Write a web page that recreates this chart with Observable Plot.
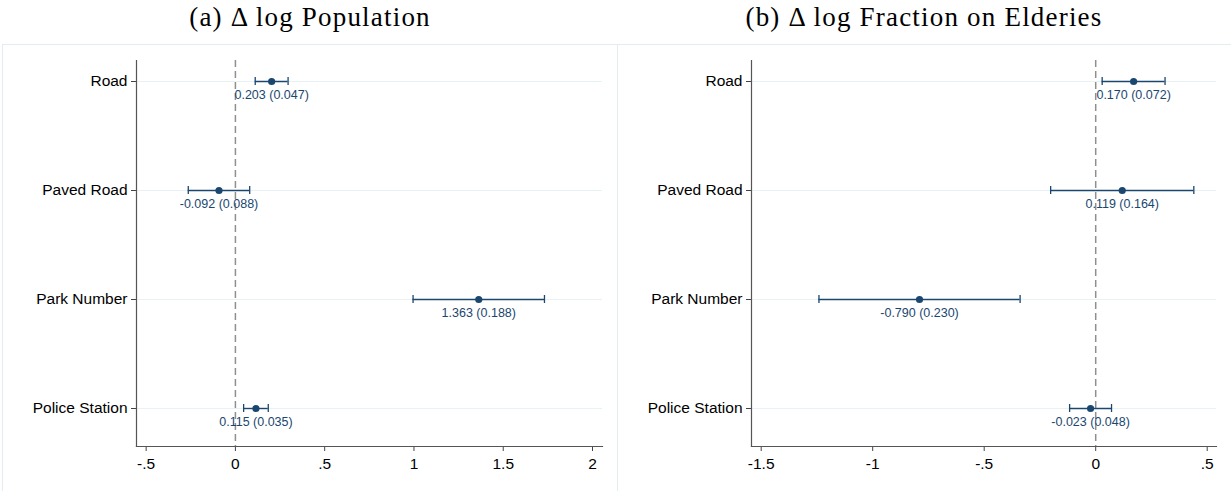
<!DOCTYPE html>
<html>
<head>
<meta charset="utf-8">
<script src="https://cdn.jsdelivr.net/npm/d3@7"></script>
<script src="https://cdn.jsdelivr.net/npm/@observablehq/plot@0.6"></script>
<style>
  html, body { margin: 0; padding: 0; background: #fff; }
  body { width: 1231px; height: 491px; overflow: hidden; position: relative; }
  .title { position: absolute; top: 2px; font-family: "Liberation Serif", "DejaVu Serif", serif; font-size: 27px; letter-spacing: 1.2px; color: #000; text-align: center; white-space: nowrap; }
  .box { position: absolute; top: 44px; border: 1px solid #e3ecef; height: 449px; background: #fff; }
  .box svg { display: block; }
</style>
</head>
<body>
<div id="ta" class="title"></div>
<div id="tb" class="title"></div>
<div id="pa" class="box"></div>
<div id="pb" class="box"></div>
<script>
// ---- data ----
const categories = ["Road", "Paved Road", "Park Number", "Police Station"];

const titleA = "(a) Δ log Population";
const popEst = [0.203, -0.092, 1.363, 0.115];
const popSE  = [0.047, 0.088, 0.188, 0.035];
const popLo  = [0.111, -0.264, 0.995, 0.046];
const popHi  = [0.295, 0.080, 1.731, 0.184];
const popTicks = [-0.5, 0, 0.5, 1, 1.5, 2];

const titleB = "(b) Δ log Fraction on Elderies";
const eldEst = [0.170, 0.119, -0.790, -0.023];
const eldSE  = [0.072, 0.164, 0.230, 0.048];
const eldLo  = [0.029, -0.202, -1.241, -0.117];
const eldHi  = [0.311, 0.440, -0.339, 0.071];
const eldTicks = [-1.5, -1, -0.5, 0, 0.5];

// ---- drawing ----
const navy = "#1a476f";
const fmt = d => d === 0 ? "0" : String(d).replace(/^(-?)0\./, "$1.");

function panel({est, se, lo, hi, ticks, domain, width}) {
  const rows = categories.map((c, i) => ({
    cat: c, est: est[i], lo: lo[i], hi: hi[i],
    label: `${est[i].toFixed(3)} (${se[i].toFixed(3)})`
  }));
  return Plot.plot({
    width, height: 447,
    marginLeft: 133, marginRight: 15, marginTop: 15, marginBottom: 46,
    style: {fontFamily: "'Liberation Sans', Arial, sans-serif", fontSize: "15.5px", color: "#000", background: "transparent", overflow: "visible"},
    x: {domain, label: null},
    y: {type: "band", domain: categories, paddingInner: 0.927, paddingOuter: 0, insetTop: 16, insetBottom: 33, label: null},
    marks: [
      Plot.ruleY(rows, {y: "cat", stroke: "#e8f1f3", strokeWidth: 1.2}),
      Plot.ruleX([0], {stroke: "#8f8f8f", strokeWidth: 1.5, strokeDasharray: "7,4"}),
      Plot.axisX({ticks, tickFormat: fmt, tickSize: 5, tickPadding: 6, stroke: "#444", label: null}),
      Plot.axisY({tickSize: 5, tickPadding: 4, stroke: "#444", label: null}),
      Plot.frame({anchor: "left", stroke: "#555", strokeWidth: 1.2}),
      Plot.frame({anchor: "bottom", stroke: "#555", strokeWidth: 1.2}),
      Plot.ruleY(rows, {y: "cat", x1: "lo", x2: "hi", stroke: navy, strokeWidth: 1.4}),
      Plot.tickX(rows, {x: "lo", y: "cat", stroke: navy, strokeWidth: 1.3}),
      Plot.tickX(rows, {x: "hi", y: "cat", stroke: navy, strokeWidth: 1.3}),
      Plot.dot(rows, {x: "est", y: "cat", r: 3.6, fill: navy, stroke: "none"}),
      Plot.text(rows, {x: "est", y: "cat", text: "label", dy: 13, fill: navy, fontSize: 12.5})
    ]
  });
}

const svgA = panel({est: popEst, se: popSE, lo: popLo, hi: popHi, ticks: popTicks, domain: [-0.554, 2.056], width: 614});
const svgB = panel({est: eldEst, se: eldSE, lo: eldLo, hi: eldHi, ticks: eldTicks, domain: [-1.5435, 0.5417], width: 613});

const pa = document.getElementById("pa");
pa.style.left = "2px"; pa.style.width = "614px";
pa.appendChild(svgA);
const pb = document.getElementById("pb");
pb.style.left = "617px"; pb.style.width = "613px";
pb.appendChild(svgB);

const ta = document.getElementById("ta");
ta.textContent = titleA; ta.style.left = "2px"; ta.style.width = "616px";
const tb = document.getElementById("tb");
tb.textContent = titleB; tb.style.left = "617px"; tb.style.width = "614px";
</script>
</body>
</html>
